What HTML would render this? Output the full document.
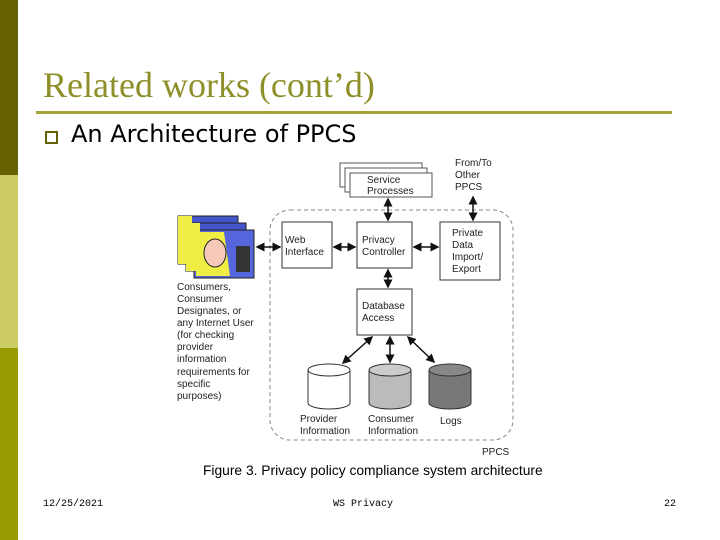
<!DOCTYPE html>
<html><head><style>
body{margin:0;width:720px;height:540px;background:#fff;position:relative;overflow:hidden;font-family:"Liberation Sans",sans-serif}
.b{position:absolute;left:0;width:18px}
</style></head><body>
<div class="b" style="top:0;height:175px;background:#666000"></div>
<div class="b" style="top:175px;height:173px;background:#cccc66"></div>
<div class="b" style="top:348px;height:192px;background:#999900"></div>
<div style="position:absolute;left:43px;top:64px;font-family:'Liberation Serif',serif;font-size:36px;color:#8f8f2a;white-space:nowrap">Related works (cont’d)</div>
<div style="position:absolute;left:36px;top:111px;width:636px;height:3px;background:#a3a33a"></div>
<div style="position:absolute;left:45px;top:131px;width:9px;height:9px;border:2px solid #666000"></div>
<div style="position:absolute;left:71px;top:120px;font-family:'DejaVu Sans',sans-serif;font-size:24px;color:#000;white-space:nowrap">An Architecture of PPCS</div>
<svg style="position:absolute;left:0;top:0" width="720" height="540" font-family="Liberation Sans" font-size="10" fill="#222">
<defs><marker id="a" markerWidth="6" markerHeight="6" refX="5" refY="3" orient="auto-start-reverse"><path d="M0,0L6,3L0,6z" fill="#111"/></marker></defs>
<rect x="270" y="210" width="243" height="230" rx="20" fill="none" stroke="#888" stroke-dasharray="4,3"/>
<rect x="340" y="163" width="82" height="24" fill="#fff" stroke="#555"/>
<rect x="345" y="168" width="82" height="24" fill="#fff" stroke="#555"/>
<rect x="350" y="173" width="82" height="24" fill="#fff" stroke="#555"/>
<text x="367" y="183">Service</text><text x="367" y="194">Processes</text>
<text x="455" y="166">From/To</text><text x="455" y="178">Other</text><text x="455" y="190">PPCS</text>
<g fill="#fff" stroke="#333">
<rect x="282" y="222" width="50" height="46"/><rect x="357" y="222" width="55" height="46"/>
<rect x="440" y="222" width="60" height="58"/><rect x="357" y="289" width="55" height="46"/></g>
<text x="285" y="243">Web</text><text x="285" y="255">Interface</text>
<text x="362" y="243">Privacy</text><text x="362" y="255">Controller</text>
<text x="452" y="236">Private</text><text x="452" y="248">Data</text><text x="452" y="260">Import/</text><text x="452" y="272">Export</text>
<text x="362" y="309">Database</text><text x="362" y="321">Access</text>
<g stroke="#111" stroke-width="1.5" marker-start="url(#a)" marker-end="url(#a)">
<line x1="257" y1="247" x2="280" y2="247"/><line x1="334" y1="247" x2="355" y2="247"/><line x1="414" y1="247" x2="438" y2="247"/>
<line x1="388" y1="199" x2="388" y2="220"/><line x1="473" y1="197" x2="473" y2="220"/><line x1="388" y1="270" x2="388" y2="287"/>
<line x1="372" y1="337" x2="343" y2="363"/><line x1="390" y1="337" x2="390" y2="362"/><line x1="408" y1="337" x2="434" y2="362"/></g>
<g stroke="#333">
<path d="M308,370v33a21,6 0 0 0 42,0v-33" fill="#fff"/><ellipse cx="329" cy="370" rx="21" ry="6" fill="#fff"/>
<path d="M369,370v33a21,6 0 0 0 42,0v-33" fill="#bbb"/><ellipse cx="390" cy="370" rx="21" ry="6" fill="#ccc"/>
<path d="M429,370v33a21,6 0 0 0 42,0v-33" fill="#777"/><ellipse cx="450" cy="370" rx="21" ry="6" fill="#888"/></g>
<text x="300" y="422">Provider</text><text x="300" y="434">Information</text>
<text x="368" y="422">Consumer</text><text x="368" y="434">Information</text>
<text x="440" y="424">Logs</text><text x="482" y="455">PPCS</text>
<g stroke="#222">
<rect x="178" y="216" width="60" height="48" fill="#4455cc"/><rect x="186" y="223" width="60" height="48" fill="#4455cc"/>
<rect x="194" y="230" width="60" height="48" fill="#5566dd"/></g>
<rect x="178" y="216" width="14" height="48" fill="#ee4"/><rect x="186" y="223" width="14" height="48" fill="#ee4"/>
<path d="M196,232h28l6,44h-34z" fill="#ee4"/><ellipse cx="215" cy="253" rx="11" ry="14" fill="#f6c8b8" stroke="#222"/>
<rect x="236" y="246" width="14" height="26" fill="#333"/>
<g font-size="10"><text x="177" y="290">Consumers,</text><text x="177" y="302">Consumer</text><text x="177" y="314">Designates, or</text><text x="177" y="326">any Internet User</text><text x="177" y="338">(for checking</text><text x="177" y="350">provider</text><text x="177" y="362">information</text><text x="177" y="375">requirements for</text><text x="177" y="387">specific</text><text x="177" y="399">purposes)</text></g>
<text x="203" y="475" font-size="13.8" fill="#000">Figure 3. Privacy policy compliance system architecture</text>
<g font-family="Liberation Mono" font-size="10" fill="#000"><text x="43" y="506">12/25/2021</text><text x="333" y="506">WS Privacy</text><text x="664" y="506">22</text></g>
</svg>
</body></html>
